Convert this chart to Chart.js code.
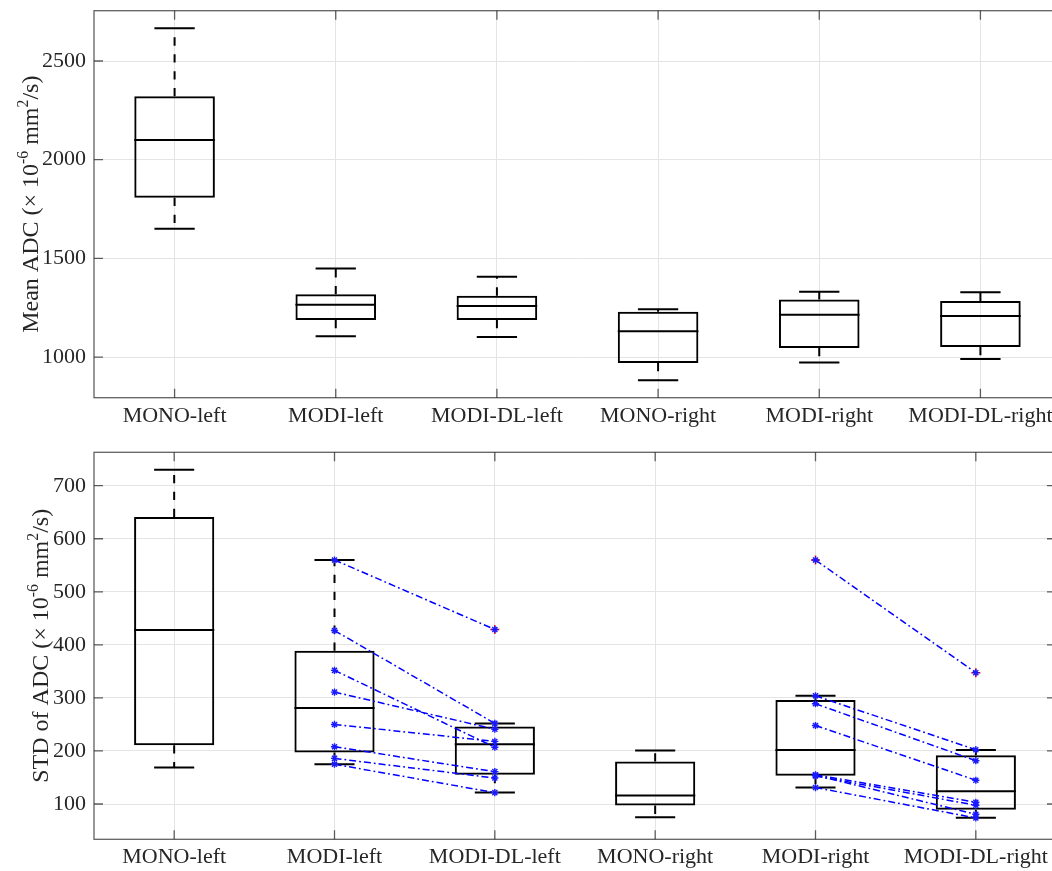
<!DOCTYPE html>
<html>
<head>
<meta charset="utf-8">
<script src="https://cdn.jsdelivr.net/npm/chart.js@4.4.1/dist/chart.umd.min.js"></script>
<style>
  html, body { margin: 0; padding: 0; background: #fff; overflow: hidden; width: 1052px; height: 871px; }
  .panel { position: absolute; left: 0; }
  #top { top: 0; }
  #bottom { top: 435px; }
</style>
</head>
<body>
<canvas id="top" class="panel" width="1062" height="435"></canvas>
<canvas id="bottom" class="panel" width="1062" height="436"></canvas>
<script>
// Groups along the x axis
const categories = ['MONO-left', 'MODI-left', 'MODI-DL-left', 'MONO-right', 'MODI-right', 'MODI-DL-right'];

// Mean ADC box statistics (x 10^-6 mm^2/s)
const meanLow    = [1650, 1106, 1101,  883,  972,  990];
const meanQ1     = [1807, 1188, 1188,  970, 1046, 1051];
const meanMedian = [2100, 1265, 1259, 1131, 1214, 1208];
const meanQ3     = [2321, 1318, 1311, 1230, 1292, 1284];
const meanHigh   = [2666, 1449, 1407, 1242, 1331, 1328];
const meanTicks  = [1000, 1500, 2000, 2500];

// STD of ADC box statistics (x 10^-6 mm^2/s)
const stdLow    = [169, 175, 121.5,  75, 131,  74];
const stdQ1     = [211, 197, 155,    97, 153.5, 89];
const stdMedian = [428, 281, 212.5, 116, 202, 124];
const stdQ3     = [641, 389, 246,   180, 296, 192];
const stdHigh   = [730, 560, 252,   201, 304, 202];
const stdOutliers = [null, null, 429, null, 560, 347.6];
const stdTicks  = [100, 200, 300, 400, 500, 600, 700];

// Per-subject STD values, paired MODI -> MODI-DL on each side
const subjModiLeft  = [560, 427, 352, 311, 250, 208, 186, 175];
const subjDlLeft    = [429, 252, 207, 241, 218, 161, 149, 121.5];
const subjModiRight = [560, 304, 289, 248, 155, 154, 153, 131];
const subjDlRight   = [347.6, 202.4, 181.7, 144.8, 103.2, 80.6, 97.6, 73.8];

const SERIF = '"Liberation Serif", "Times New Roman", Times, serif';
const TEXT = '#262626';
const GRID = '#e4e4e4';
const FRAME = 'rgba(38,38,38,0.72)';

// Whiskers, caps and median lines for every box
const boxWhiskers = {
  id: 'boxWhiskers',
  beforeDatasetsDraw(chart, args, opts) {
    const { ctx } = chart;
    const x = chart.scales.x, y = chart.scales.y;
    const step = x.getPixelForValue(1) - x.getPixelForValue(0);
    const boxHalf = step * 0.25, capHalf = step * 0.125;
    ctx.save();
    ctx.beginPath();
    ctx.rect(chart.chartArea.left, chart.chartArea.top, chart.chartArea.width, chart.chartArea.height);
    ctx.clip();
    ctx.strokeStyle = '#000';
    ctx.lineWidth = 2;
    opts.median.forEach((m, i) => {
      const cx = x.getPixelForValue(i);
      // dashed whiskers, drawn outward from the box
      ctx.setLineDash([8.3, 8.6]);
      ctx.beginPath();
      ctx.moveTo(cx, y.getPixelForValue(opts.q3[i]));
      ctx.lineTo(cx, y.getPixelForValue(opts.high[i]));
      ctx.moveTo(cx, y.getPixelForValue(opts.q1[i]));
      ctx.lineTo(cx, y.getPixelForValue(opts.low[i]));
      ctx.stroke();
      ctx.setLineDash([]);
      // caps
      ctx.beginPath();
      const yh = y.getPixelForValue(opts.high[i]);
      const yl = y.getPixelForValue(opts.low[i]);
      ctx.moveTo(cx - capHalf, yh); ctx.lineTo(cx + capHalf, yh);
      ctx.moveTo(cx - capHalf, yl); ctx.lineTo(cx + capHalf, yl);
      // median
      const ym = y.getPixelForValue(m);
      ctx.moveTo(cx - boxHalf, ym); ctx.lineTo(cx + boxHalf, ym);
      ctx.stroke();
    });
    ctx.restore();
  }
};

// Axes box with inward tick marks on all four sides
const axesFrame = {
  id: 'axesFrame',
  afterDatasetsDraw(chart) {
    const { ctx, chartArea: a } = chart;
    const x = chart.scales.x, y = chart.scales.y;
    const len = 9;
    ctx.save();
    ctx.strokeStyle = FRAME;
    ctx.lineWidth = 1.3;
    ctx.strokeRect(a.left, a.top, a.width, a.height);
    ctx.beginPath();
    y.ticks.forEach(t => {
      const py = y.getPixelForValue(t.value);
      ctx.moveTo(a.left, py); ctx.lineTo(a.left + len, py);
      ctx.moveTo(a.right, py); ctx.lineTo(a.right - len, py);
    });
    categories.forEach((c, i) => {
      const px = x.getPixelForValue(i);
      ctx.moveTo(px, a.bottom); ctx.lineTo(px, a.bottom - len);
      ctx.moveTo(px, a.top); ctx.lineTo(px, a.top + len);
    });
    ctx.stroke();
    ctx.restore();
  }
};

// Rotated y-axis title with superscripts
const yTitle = {
  id: 'yTitle',
  afterDraw(chart, args, opts) {
    const { ctx, chartArea: a } = chart;
    const size = opts.size;
    const supSize = size * 0.66;
    ctx.save();
    ctx.translate(opts.x, (a.top + a.bottom) / 2);
    ctx.rotate(-Math.PI / 2);
    ctx.fillStyle = TEXT;
    ctx.textBaseline = 'alphabetic';
    ctx.textAlign = 'left';
    let total = 0;
    const widths = opts.parts.map(p => {
      ctx.font = `${p.sup ? supSize : size}px ${SERIF}`;
      const w = ctx.measureText(p.t).width;
      total += w;
      return w;
    });
    let cx = -total / 2;
    opts.parts.forEach((p, i) => {
      ctx.font = `${p.sup ? supSize : size}px ${SERIF}`;
      ctx.fillText(p.t, cx, p.sup ? -size * 0.42 : 0);
      cx += widths[i];
    });
    ctx.restore();
  }
};

function buildChart(canvas, cfg) {
  const subjectSets = [];
  if (cfg.subjects) {
    for (let i = 0; i < subjModiLeft.length; i++) {
      subjectSets.push({
        type: 'line',
        data: [null, subjModiLeft[i], subjDlLeft[i], null, subjModiRight[i], subjDlRight[i]],
        borderColor: '#0000ff',
        borderWidth: 1.5,
        borderDash: [7, 3, 1.8, 3],
        pointStyle: 'star',
        pointRadius: 3.6,
        pointBorderWidth: 1.4,
        pointBorderColor: '#1a1aff',
        pointBackgroundColor: '#1a1aff',
        spanGaps: false,
        order: 1
      });
    }
    subjectSets.push({
      type: 'line',
      data: stdOutliers,
      showLine: false,
      pointStyle: 'cross',
      pointRadius: 4.5,
      pointBorderWidth: 1.5,
      pointBorderColor: '#ff0000',
      order: 5
    });
  }
  return new Chart(canvas, {
    type: 'bar',
    data: {
      labels: categories,
      datasets: [{
        type: 'bar',
        data: cfg.q1.map((v, i) => [v, cfg.q3[i]]),
        backgroundColor: 'rgba(0,0,0,0)',
        borderColor: '#000',
        borderWidth: 2,
        borderSkipped: false,
        barPercentage: 0.5,
        categoryPercentage: 1.0,
        order: 10
      }, ...subjectSets]
    },
    options: {
      responsive: false,
      animation: false,
      devicePixelRatio: 1,
      events: [],
      layout: { padding: { top: cfg.padTop, right: 1, left: 0, bottom: 0 } },
      plugins: {
        legend: { display: false },
        tooltip: { enabled: false },
        boxWhiskers: { low: cfg.low, q1: cfg.q1, median: cfg.median, q3: cfg.q3, high: cfg.high },
        yTitle: { parts: cfg.title, x: cfg.titleX, size: 24 }
      },
      scales: {
        x: {
          type: 'category',
          offset: true,
          grid: { offset: false, color: GRID, lineWidth: 1, drawTicks: false },
          border: { display: false },
          ticks: { color: TEXT, font: { family: SERIF, size: 22 }, padding: 5, maxRotation: 0, autoSkip: false },
          afterFit(s) { s.height = cfg.xHeight; s.paddingLeft = 0; s.paddingRight = 0; }
        },
        y: {
          type: 'linear',
          min: cfg.min,
          max: cfg.max,
          grid: { color: GRID, lineWidth: 1, drawTicks: false },
          border: { display: false },
          ticks: { color: TEXT, font: { family: SERIF, size: 22 }, padding: 8, callback: v => String(v) },
          afterBuildTicks(s) { s.ticks = cfg.ticks.map(v => ({ value: v })); },
          afterFit(s) { s.width = 94; s.paddingTop = 0; s.paddingBottom = 0; }
        }
      }
    },
    plugins: [boxWhiskers, axesFrame, yTitle]
  });
}

buildChart(document.getElementById('top'), {
  low: meanLow, q1: meanQ1, median: meanMedian, q3: meanQ3, high: meanHigh,
  ticks: meanTicks, min: 794, max: 2755,
  padTop: 10.7, xHeight: 37.3, titleX: 38,
  title: [{ t: 'Mean ADC (× 10' }, { t: '-6', sup: true }, { t: ' mm' }, { t: '2', sup: true }, { t: '/s)' }]
});

buildChart(document.getElementById('bottom'), {
  low: stdLow, q1: stdQ1, median: stdMedian, q3: stdQ3, high: stdHigh,
  ticks: stdTicks, min: 33.5, max: 763,
  padTop: 17.3, xHeight: 31.7, titleX: 48,
  subjects: true,
  title: [{ t: 'STD of ADC (× 10' }, { t: '-6', sup: true }, { t: ' mm' }, { t: '2', sup: true }, { t: '/s)' }]
});
</script>
</body>
</html>
